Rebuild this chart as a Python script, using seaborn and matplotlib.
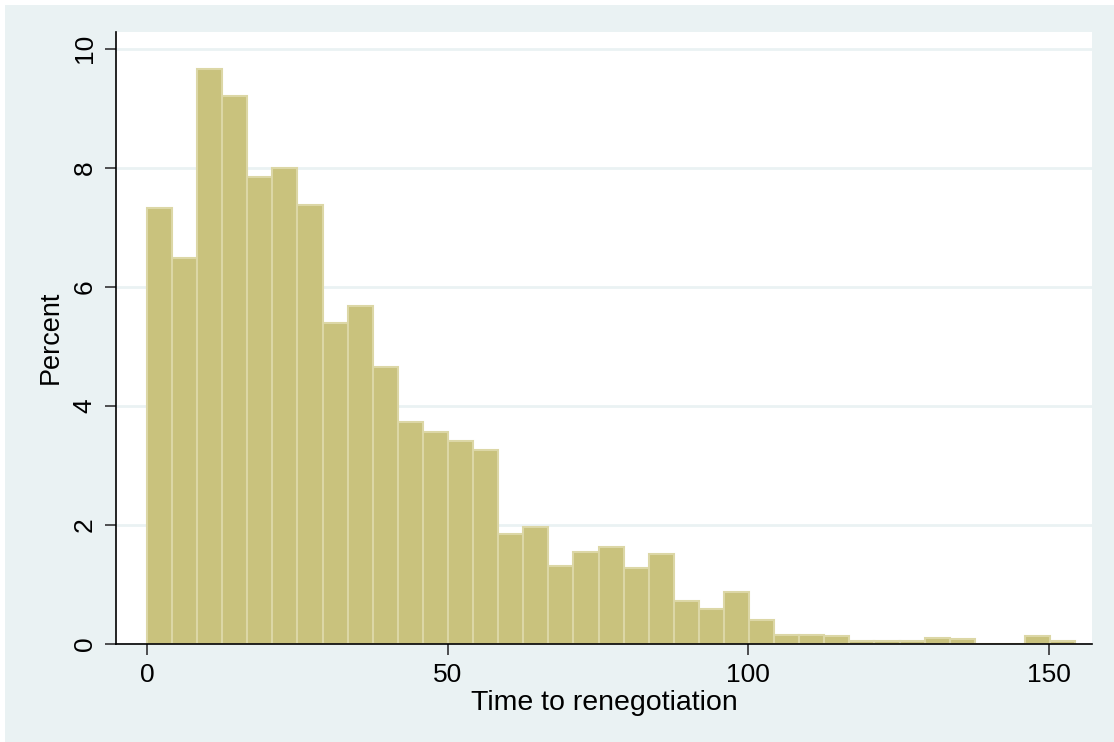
import pandas as pd
import seaborn as sns
import matplotlib.pyplot as plt
from matplotlib.patches import Rectangle

# Histogram bins (width) and percent per bin
bin_width = 4.173
n_bins = 37
percent = [7.32, 6.48, 9.65, 9.20, 7.85, 7.99, 7.38, 5.38, 5.67, 4.64,
           3.73, 3.55, 3.41, 3.26, 1.84, 1.96, 1.30, 1.53, 1.62, 1.27,
           1.50, 0.72, 0.58, 0.86, 0.40, 0.15, 0.15, 0.12, 0.05, 0.05,
           0.04, 0.09, 0.07, 0.0, 0.0, 0.12, 0.05]
y_ticks = [0, 2, 4, 6, 8, 10]
x_ticks = [0, 50, 100, 150]

edges = [i * bin_width for i in range(n_bins + 1)]
df = pd.DataFrame({"time": [(a + b) / 2 for a, b in zip(edges[:-1], edges[1:])],
                   "pct": percent})

sns.set_style("white")
plt.rcParams["font.family"] = ["Liberation Sans", "DejaVu Sans"]
plt.rcParams["text.color"] = "black"
plt.rcParams["axes.labelcolor"] = "black"

bg = "#EAF2F3"
fig = plt.figure(figsize=(11.14, 7.42), dpi=100, facecolor="white")
fig.patches.append(Rectangle((5 / 1114, 0), 1, 1 - 5 / 742, transform=fig.transFigure,
                             facecolor=bg, edgecolor="none", zorder=-10))
ax = fig.add_axes([116 / 1114, 1 - 643.5 / 742, (1092 - 116) / 1114, (643.5 - 32) / 742])
ax.set_facecolor("white")

sns.histplot(data=df, x="time", weights="pct", bins=edges, ax=ax,
             color="#C9C27D", edgecolor="#DCD7A6", linewidth=1.5, alpha=1)

ax.set_xlim(-5.15, 157.2)
ax.set_ylim(0, 10.28)
ax.set_yticks(y_ticks)
ax.set_xticks(x_ticks)
for y in y_ticks:
    ax.axhline(y, color=bg, lw=2, zorder=0)

for s in ["top", "right"]:
    ax.spines[s].set_visible(False)
for s in ["left", "bottom"]:
    ax.spines[s].set_color("black")
    ax.spines[s].set_linewidth(1.2)

ax.tick_params(axis="both", bottom=True, left=True, length=8, width=1.2,
               color="#333333", labelcolor="black", labelsize=19,
               direction="out", pad=6)
ax.tick_params(axis="y", labelrotation=90)
for lbl in ax.get_yticklabels():
    lbl.set_va("center")

ax.set_xlabel("Time to renegotiation", fontsize=20.5, labelpad=2)
ax.set_ylabel("Percent", fontsize=19.5, labelpad=6)

fig.savefig("out.png", dpi=100)
